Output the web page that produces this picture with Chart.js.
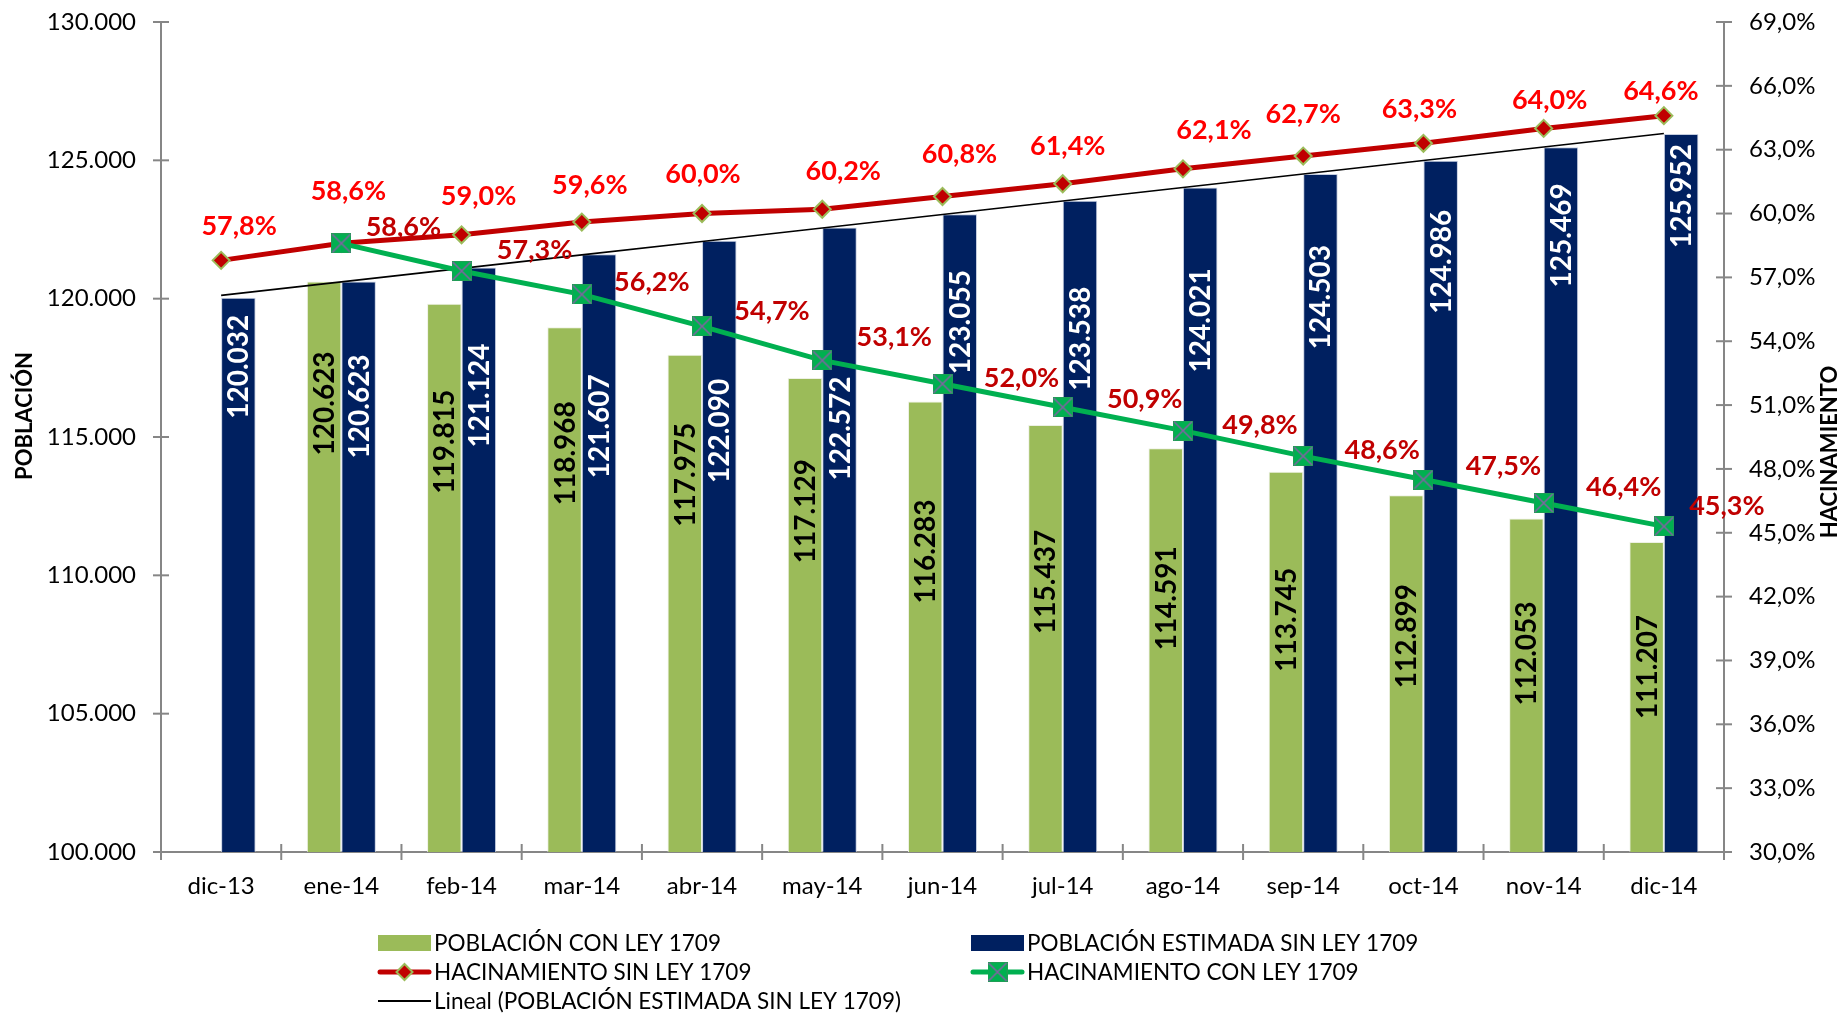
<!DOCTYPE html>
<html>
<head>
<meta charset="utf-8">
<script src="https://cdn.jsdelivr.net/npm/chart.js@4.4.1/dist/chart.umd.min.js"></script>
<style>
  html, body { margin: 0; padding: 0; background: #ffffff; overflow: hidden; }
  #wrap { width: 1841px; height: 1014px; position: relative; }
  canvas { display: block; }
</style>
</head>
<body>
<div id="wrap"><canvas id="c" width="1841" height="1014"></canvas></div>
<script>
// ---------------- DATA ----------------
const categories = ['dic-13','ene-14','feb-14','mar-14','abr-14','may-14','jun-14','jul-14','ago-14','sep-14','oct-14','nov-14','dic-14'];
const poblacionConLey = [null,120623,119815,118968,117975,117129,116283,115437,114591,113745,112899,112053,111207];
const poblacionSinLey = [120032,120623,121124,121607,122090,122572,123055,123538,124021,124503,124986,125469,125952];
const hacinamientoSinLey = [57.8,58.6,59.0,59.6,60.0,60.2,60.8,61.4,62.1,62.7,63.3,64.0,64.6];
const hacinamientoConLey = [null,58.6,57.3,56.2,54.7,53.1,52.0,50.9,49.8,48.6,47.5,46.4,45.3];
const poblacionAxis = { min: 100000, max: 130000, step: 5000 };
const hacinamientoAxis = { min: 30, max: 69, step: 3 };
const seriesNames = {
  con: 'POBLACIÓN CON LEY 1709',
  sin: 'POBLACIÓN ESTIMADA SIN LEY 1709',
  hacSin: 'HACINAMIENTO SIN LEY 1709',
  hacCon: 'HACINAMIENTO CON LEY 1709',
  trend: 'Lineal (POBLACIÓN ESTIMADA SIN LEY 1709)'
};
const axisTitles = { left: 'POBLACIÓN', right: 'HACINAMIENTO' };

// ---------------- STYLE ----------------
const COLORS = {
  green: '#9BBB59', navy: '#002060', red: '#C00000', lineGreen: '#00B050',
  xMark: '#8064A2', axis: '#868686', brightRed: '#FF0000', darkRed: '#C00000'
};
const FONT = 'Lato, "Open Sans", sans-serif';
// label nudges (pixels) reproducing hand-placed labels of the original
const redLabelNudge = [[18,-35],[7,-53],[17,-40],[8,-38],[1,-41],[21,-39],[17,-44],[5,-39],[31,-40],[0,-43],[-4,-35],[6,-29],[-3,-26]];
const greenLabelNudge = [null,[62,-17],[73,-22],[70,-13],[70,-16],[72,-24],[79,-7],[82,-9],[77,-7],[79,-7],[80,-15],[80,-17],[63,-21]];
const navyBarLabelDrop = [69,125,128,172,190,201,108,138,133,123,101,88,62];
const greenBarLabelDrop = [null,122,138,126,120,133,150,157,150,148,141,135,125];

const fmtPop = v => String(v).replace(/\B(?=(\d{3})+(?!\d))/g, '.');
const fmtPct = v => v.toFixed(1).replace('.', ',') + '%';

function linearTrend(vals) {
  const n = vals.length;
  let sx = 0, sy = 0, sxy = 0, sxx = 0;
  vals.forEach((v, i) => { sx += i; sy += v; sxy += i * v; sxx += i * i; });
  const b = (n * sxy - sx * sy) / (n * sxx - sx * sx);
  const a = (sy - b * sx) / n;
  return vals.map((_, i) => a + b * i);
}
const trendValues = linearTrend(poblacionSinLey);

function squareX(size) {
  const c = document.createElement('canvas');
  c.width = size; c.height = size;
  const g = c.getContext('2d');
  g.fillStyle = COLORS.lineGreen;
  g.fillRect(0, 0, size, size);
  g.strokeStyle = '#1f9e55';
  g.lineWidth = 1;
  g.strokeRect(0.5, 0.5, size - 1, size - 1);
  g.strokeStyle = COLORS.xMark;
  g.lineWidth = 1.6;
  g.beginPath();
  g.moveTo(1, 1); g.lineTo(size - 1, size - 1);
  g.moveTo(size - 1, 1); g.lineTo(1, size - 1);
  g.stroke();
  return c;
}
const greenMarker = squareX(20);

function drawDiamond(ctx, x, y, r) {
  ctx.beginPath();
  ctx.moveTo(x, y - r); ctx.lineTo(x + r, y); ctx.lineTo(x, y + r); ctx.lineTo(x - r, y);
  ctx.closePath();
  ctx.fillStyle = COLORS.red; ctx.fill();
  ctx.lineWidth = 2; ctx.strokeStyle = COLORS.green; ctx.stroke();
}

const decor = {
  id: 'decor',
  beforeDatasetsDraw(chart) {
    const { ctx, chartArea: a, scales } = chart;
    const ys = scales.y, yr = scales.y1;
    ctx.save();
    ctx.strokeStyle = COLORS.axis;
    ctx.lineWidth = 2;
    ctx.lineCap = 'butt';
    const seg = (x1, y1, x2, y2) => { ctx.beginPath(); ctx.moveTo(x1, y1); ctx.lineTo(x2, y2); ctx.stroke(); };
    seg(a.left, a.top, a.left, a.bottom + 8);
    seg(a.right, a.top, a.right, a.bottom + 8);
    seg(a.left, a.bottom, a.right, a.bottom);
    ys.ticks.forEach(t => { const p = ys.getPixelForValue(t.value); seg(a.left - 8, p, a.left + 8, p); });
    yr.ticks.forEach(t => { const p = yr.getPixelForValue(t.value); seg(a.right - 8, p, a.right + 8, p); });
    const n = categories.length;
    for (let i = 1; i < n; i++) {
      const px = a.left + i * (a.right - a.left) / n;
      seg(px, a.bottom - 8, px, a.bottom + 8);
    }
    ctx.restore();
  },
  afterDatasetsDraw(chart) {
    const { ctx } = chart;
    ctx.save();
    const barFont = 'bold 28px ' + FONT;
    const drawBarLabels = (dsIndex, drops, color) => {
      const meta = chart.getDatasetMeta(dsIndex);
      const vals = chart.data.datasets[dsIndex].data;
      meta.data.forEach((el, i) => {
        if (vals[i] == null || drops[i] == null) return;
        const cx = el.x, cy = el.y + drops[i];
        ctx.save();
        ctx.translate(cx, cy);
        ctx.rotate(-Math.PI / 2);
        ctx.font = barFont;
        ctx.fillStyle = color;
        ctx.textAlign = 'center';
        ctx.textBaseline = 'alphabetic';
        ctx.fillText(fmtPop(vals[i]), 0, 10);
        ctx.restore();
      });
    };
    drawBarLabels(0, greenBarLabelDrop, '#000000');
    drawBarLabels(1, navyBarLabelDrop, '#FFFFFF');
    const drawLineLabels = (dsIndex, nudges, color) => {
      const meta = chart.getDatasetMeta(dsIndex);
      const vals = chart.data.datasets[dsIndex].data;
      meta.data.forEach((el, i) => {
        if (vals[i] == null || !nudges[i]) return;
        ctx.font = 'bold 27px ' + FONT;
        ctx.fillStyle = color;
        ctx.textAlign = 'center';
        ctx.textBaseline = 'alphabetic';
        ctx.fillText(fmtPct(vals[i]), el.x + nudges[i][0], el.y + nudges[i][1] + 10);
      });
    };
    drawLineLabels(2, redLabelNudge, COLORS.brightRed);
    drawLineLabels(3, greenLabelNudge, COLORS.darkRed);
    ctx.restore();
  },
  afterDraw(chart) {
    const { ctx } = chart;
    ctx.save();
    ctx.font = 'bold 22px ' + FONT;
    ctx.fillStyle = '#000';
    ctx.textAlign = 'center';
    ctx.textBaseline = 'middle';
    ctx.save(); ctx.translate(25, 416); ctx.rotate(-Math.PI / 2); ctx.fillText(axisTitles.left, 0, 0); ctx.restore();
    ctx.save(); ctx.translate(1830, 452); ctx.rotate(-Math.PI / 2); ctx.fillText(axisTitles.right, 0, 0); ctx.restore();

    const col1 = 378, col2 = 971, mw = 53, rows = [943, 972, 1001];
    ctx.font = '22.5px ' + FONT;
    ctx.textAlign = 'left';
    ctx.textBaseline = 'middle';
    const txt = (s, x, y) => { ctx.fillStyle = '#000'; ctx.fillText(s, x + mw + 3, y + 1); };
    ctx.fillStyle = COLORS.green; ctx.fillRect(col1, rows[0] - 8, mw, 16); txt(seriesNames.con, col1, rows[0]);
    ctx.fillStyle = COLORS.navy; ctx.fillRect(col2, rows[0] - 8, mw, 16); txt(seriesNames.sin, col2, rows[0]);
    ctx.lineCap = 'round';
    ctx.strokeStyle = COLORS.red; ctx.lineWidth = 5;
    ctx.beginPath(); ctx.moveTo(col1 + 2, rows[1]); ctx.lineTo(col1 + mw - 2, rows[1]); ctx.stroke();
    drawDiamond(ctx, col1 + mw / 2, rows[1], 8);
    txt(seriesNames.hacSin, col1, rows[1]);
    ctx.strokeStyle = COLORS.lineGreen; ctx.lineWidth = 5;
    ctx.beginPath(); ctx.moveTo(col2 + 2, rows[1]); ctx.lineTo(col2 + mw - 2, rows[1]); ctx.stroke();
    ctx.drawImage(greenMarker, col2 + mw / 2 - 10, rows[1] - 10);
    txt(seriesNames.hacCon, col2, rows[1]);
    ctx.lineCap = 'butt';
    ctx.strokeStyle = '#000'; ctx.lineWidth = 2;
    ctx.beginPath(); ctx.moveTo(col1, rows[2]); ctx.lineTo(col1 + mw, rows[2]); ctx.stroke();
    txt(seriesNames.trend, col1, rows[2]);
    ctx.restore();
  }
};

function build() {
  Chart.defaults.font.family = FONT;
  Chart.defaults.color = '#000';
  new Chart(document.getElementById('c'), {
    type: 'bar',
    data: {
      labels: categories,
      datasets: [
        { label: seriesNames.con, data: poblacionConLey, backgroundColor: COLORS.green, borderColor: 'rgba(235,240,225,0.9)', borderWidth: 1, yAxisID: 'y', order: 3, categoryPercentage: 0.574, barPercentage: 1 },
        { label: seriesNames.sin, data: poblacionSinLey, backgroundColor: COLORS.navy, borderColor: 'rgba(190,200,220,0.9)', borderWidth: 1, yAxisID: 'y', order: 3, categoryPercentage: 0.574, barPercentage: 1 },
        { type: 'line', label: seriesNames.hacSin, data: hacinamientoSinLey, yAxisID: 'y1', order: 1,
          borderColor: COLORS.red, borderWidth: 5, tension: 0, fill: false,
          pointStyle: 'rectRot', pointRadius: 8.5, pointBackgroundColor: COLORS.red, pointBorderColor: COLORS.green, pointBorderWidth: 2 },
        { type: 'line', label: seriesNames.hacCon, data: hacinamientoConLey, yAxisID: 'y1', order: 0,
          borderColor: COLORS.lineGreen, borderWidth: 5, tension: 0, fill: false,
          pointStyle: greenMarker, pointRadius: 10 },
        { type: 'line', label: seriesNames.trend, data: trendValues, yAxisID: 'y', order: 2,
          borderColor: '#000000', borderWidth: 1.6, pointRadius: 0, tension: 0, fill: false }
      ]
    },
    options: {
      responsive: false,
      animation: false,
      devicePixelRatio: 1,
      layout: { padding: { top: 22, left: 0, right: 0, bottom: 0 } },
      plugins: { legend: { display: false }, tooltip: { enabled: false } },
      scales: {
        x: {
          grid: { display: false, drawTicks: false },
          border: { display: false },
          ticks: { font: { size: 24, family: FONT }, color: '#000', padding: 20, maxRotation: 0, autoSkip: false },
          afterFit(s) { s.height = 162; s.paddingLeft = 0; s.paddingRight = 0; }
        },
        y: {
          position: 'left',
          min: poblacionAxis.min, max: poblacionAxis.max,
          grid: { display: false, drawTicks: false },
          border: { display: false },
          ticks: { stepSize: poblacionAxis.step, font: { size: 24, family: FONT }, color: '#000', padding: 25, callback: v => fmtPop(v) },
          afterFit(s) { s.width = 161; s.paddingTop = 0; s.paddingBottom = 0; }
        },
        y1: {
          position: 'right',
          min: hacinamientoAxis.min, max: hacinamientoAxis.max,
          grid: { display: false, drawTicks: false },
          border: { display: false },
          ticks: { stepSize: hacinamientoAxis.step, font: { size: 24, family: FONT }, color: '#000', padding: 25, callback: v => fmtPct(v) },
          afterFit(s) { s.width = 117; s.paddingTop = 0; s.paddingBottom = 0; }
        }
      }
    },
    plugins: [decor]
  });
}

Promise.all([
  document.fonts.load('24px Lato'),
  document.fonts.load('bold 24px Lato')
]).then(build, build);
</script>
</body>
</html>
